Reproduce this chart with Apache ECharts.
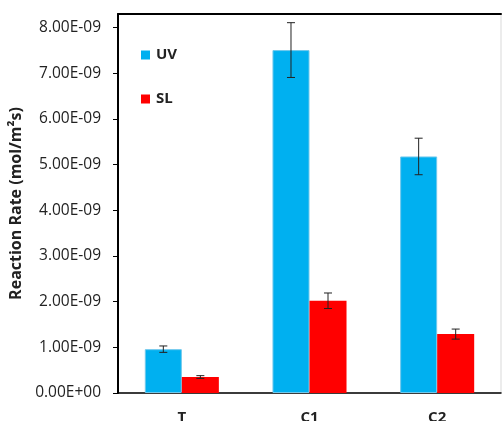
<!DOCTYPE html>
<html>
<head>
<meta charset="utf-8">
<script src="https://cdn.jsdelivr.net/npm/echarts@6/dist/echarts.min.js"></script>
<style>
  html, body { margin: 0; padding: 0; background: #fff; }
  #chart { width: 502px; height: 421px; }
</style>
</head>
<body>
<div id="chart"></div>
<script>
// Reaction rates (mol/m²s) per sample, with standard deviations
const categories = ['T', 'C1', 'C2'];
const uvRate = [0.96e-9, 7.51e-9, 5.18e-9];
const uvErr = [0.07e-9, 0.60e-9, 0.40e-9];
const slRate = [0.35e-9, 2.02e-9, 1.29e-9];
const slErr = [0.03e-9, 0.17e-9, 0.11e-9];
const yTicks = [0, 1e-9, 2e-9, 3e-9, 4e-9, 5e-9, 6e-9, 7e-9, 8e-9];

const FONT = '"Open Sans", "Liberation Sans", sans-serif';
const BAR_SHARE = 0.29;   // fraction of a category band taken by one bar

function fmtSci(v) {
  if (v === 0) return '0.00E+00';
  const exp = Math.floor(Math.log10(Math.abs(v)) + 1e-9);
  const mant = v / Math.pow(10, exp);
  const e = Math.abs(exp);
  return mant.toFixed(2) + 'E' + (exp < 0 ? '-' : '+') + (e < 10 ? '0' + e : e);
}

// Error bar (whisker with caps) drawn at the centre of one bar of the pair
function errorBars(values, errs, side) {
  return {
    type: 'custom',
    xAxisIndex: 0,
    yAxisIndex: 0,
    z: 10,
    silent: true,
    data: values.map((v, i) => [i, v - errs[i], v + errs[i]]),
    renderItem: function (params, api) {
      const band = api.size([1, 0])[0];
      const dx = side * band * BAR_SHARE / 2;
      const lo = api.coord([api.value(0), api.value(1)]);
      const hi = api.coord([api.value(0), api.value(2)]);
      const x = lo[0] + dx;
      const cap = 4;
      const style = { stroke: '#222', lineWidth: 1 };
      return {
        type: 'group',
        children: [
          { type: 'line', shape: { x1: x, y1: lo[1], x2: x, y2: hi[1] }, style: style },
          { type: 'line', shape: { x1: x - cap, y1: lo[1], x2: x + cap, y2: lo[1] }, style: style },
          { type: 'line', shape: { x1: x - cap, y1: hi[1], x2: x + cap, y2: hi[1] }, style: style }
        ]
      };
    }
  };
}

const chart = echarts.init(document.getElementById('chart'), null, { renderer: 'canvas' });

chart.setOption({
  animation: false,
  backgroundColor: '#fff',
  grid: {
    left: 118, right: 1, top: 14, bottom: 28,
    outerBoundsMode: 'none',
    containLabel: false,
    show: true, borderColor: '#d9d9d9', borderWidth: 1, backgroundColor: 'transparent'
  },
  legend: {
    orient: 'vertical',
    left: 136,
    top: 41,
    itemWidth: 9,
    itemHeight: 9,
    itemGap: 26,
    itemStyle: { borderWidth: 0 },
    icon: 'rect',
    data: ['UV', 'SL'],
    textStyle: { fontFamily: FONT, fontSize: 15, fontWeight: 'bold', color: '#222', lineHeight: 18, padding: [0, 0, 0, 1] }
  },
  xAxis: [
    {
      type: 'category',
      data: categories,
      position: 'bottom',
      axisLine: { lineStyle: { color: '#000', width: 1.5 } },
      axisTick: { show: false },
      axisLabel: { fontFamily: FONT, fontSize: 15, fontWeight: 'bold', color: '#222', margin: 17 },
      splitLine: { show: false }
    },
    {
      type: 'category',
      data: categories,
      position: 'top',
      axisLine: { lineStyle: { color: '#000', width: 2 } },
      axisTick: { show: false },
      axisLabel: { show: false },
      splitLine: { show: false }
    }
  ],
  yAxis: {
    type: 'value',
    min: 0,
    max: 8.3e-9,
    name: 'Reaction Rate (mol/m²s)',
    nameLocation: 'middle',
    nameGap: 92,
    nameTextStyle: { fontFamily: FONT, fontSize: 16, fontWeight: 'bold', color: '#222' },
    axisLine: { show: true, lineStyle: { color: '#000', width: 2 } },
    axisTick: { show: true, length: 5, customValues: yTicks, lineStyle: { color: '#000', width: 1 } },
    axisLabel: {
      customValues: yTicks,
      fontFamily: FONT, fontSize: 15.5, color: '#222', margin: 17,
      formatter: fmtSci
    },
    splitLine: { show: false }
  },
  series: [
    {
      name: 'UV',
      type: 'bar',
      data: uvRate,
      barGap: '0%',
      barCategoryGap: '42%',
      itemStyle: { color: '#00B0F0', borderColor: '#6fc8ec', borderWidth: 1 }
    },
    {
      name: 'SL',
      type: 'bar',
      data: slRate,
      itemStyle: { color: '#FF0000' }
    },
    errorBars(uvRate, uvErr, -1),
    errorBars(slRate, slErr, 1)
  ]
});
</script>
</body>
</html>
